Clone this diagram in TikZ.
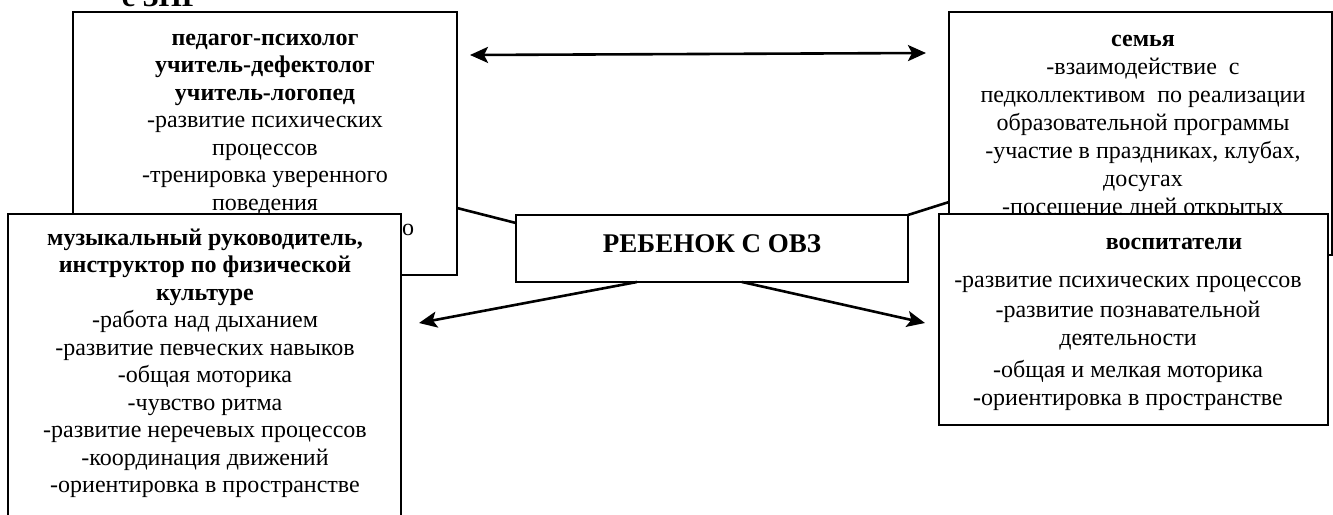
\documentclass[tikz,border=0pt]{standalone}
\usepackage{fontspec}
\setmainfont{Liberation Serif}
\usepackage{tikz}
\usetikzlibrary{arrows.meta}
\usetikzlibrary{calc}

\begin{document}
\begin{tikzpicture}
[x=0.5pt,y=-0.5pt,
box/.style={rectangle,draw=black,fill=white,line width=1pt,inner sep=0pt,outer sep=0pt},
txt/.style={align=center,inner sep=0pt,anchor=north,font=\fontsize{12}{13.75}\selectfont},
link/.style={-,line width=1.3pt},
arr/.style={-{Stealth[length=9pt,width=8pt,inset=2pt]},line width=1.3pt},
darr/.style={{Stealth[length=9pt,width=8pt,inset=2pt]}-{Stealth[length=9pt,width=8pt,inset=2pt]},line width=1.3pt}]

\useasboundingbox (0,0) rectangle (1333,514);
\clip (0,0) rectangle (1333,514);

\node at (161,6) [anchor=base,inner sep=0pt,font=\fontsize{15}{18}\selectfont\bfseries] (title) {с ЗПР};

% upper boxes
\node at (265,143.5) [box,minimum width=192pt,minimum height=131.5pt] (psych) {};
\node at (265,25.75) [txt] (psychtxt) {\strut\textbf{педагог-психолог}\\ \textbf{учитель-дефектолог}\\
  \textbf{учитель-логопед}\\ -развитие психических\\ процессов\\ -тренировка уверенного\\ поведения};
\node at (408,235) [anchor=base,inner sep=0pt,font=\fontsize{12}{13.75}\selectfont] (psychend) {о};

\node at (1140.25,133.5) [box,minimum width=191.25pt,minimum height=121.5pt] (family) {};
\node at (1143,26.4) [txt,font=\fontsize{12}{14}\selectfont] (familytxt) {\strut\textbf{семья}\\ -взаимодействие~~с\\
  педколлективом~~по реализации\\ образовательной программы\\ -участие в праздниках, клубах,\\ досугах\\ -посещение дней открытых};

% lower boxes
\node at (204.5,377) [box,minimum width=196.5pt,minimum height=163pt] (music) {};
\node at (205,225.75) [txt] (musictxt) {\strut\textbf{музыкальный руководитель,}\\ \textbf{инструктор по физической}\\
  \textbf{культуре}\\ -работа над дыханием\\ -развитие певческих навыков\\ -общая моторика\\ -чувство ритма\\
  -развитие неречевых процессов\\ -координация движений\\ -ориентировка в пространстве};

\node at (1133.5,319.5) [box,minimum width=194.5pt,minimum height=105.5pt] (teacher) {};
\node at (1128,229) [txt,font=\fontsize{12}{14}\selectfont] (teachertxt) {\strut\hspace*{46pt}\textbf{воспитатели}\\[5pt]
  -развитие психических процессов\\[1pt] -развитие познавательной\\ деятельности\\[2pt]
  -общая и мелкая моторика\\ \textbf{-}ориентировка в пространстве};

% centre
\node at (712,248.5) [box,minimum width=196pt,minimum height=33.5pt] (child) {};
\node at (712,252) [anchor=base,inner sep=0pt,font=\fontsize{13.5}{16}\selectfont\bfseries] (childtxt) {РЕБЕНОК С ОВЗ};

% connectors
\coordinate (topL) at ($(psych.north east)+(13,43)$);
\coordinate (topR) at ($(family.north west)+(-23,41)$);
\draw [darr] (topL) -- (topR);
\draw [link] ($(psych.north east)+(0,196)$) -- ($(child.north west)+(0,8)$);
\draw [link] (child.north east) -- ($(family.south west)+(0,-53)$);
\coordinate (musicend) at ($(music.north east)+(18,109)$);
\coordinate (teacherend) at ($(teacher.north west)+(-14,109)$);
\draw [arr] ($(child.south west)+(121,0)$) -- (musicend);
\draw [arr] ($(child.south west)+(226,0)$) -- (teacherend);
\end{tikzpicture}
\end{document}
